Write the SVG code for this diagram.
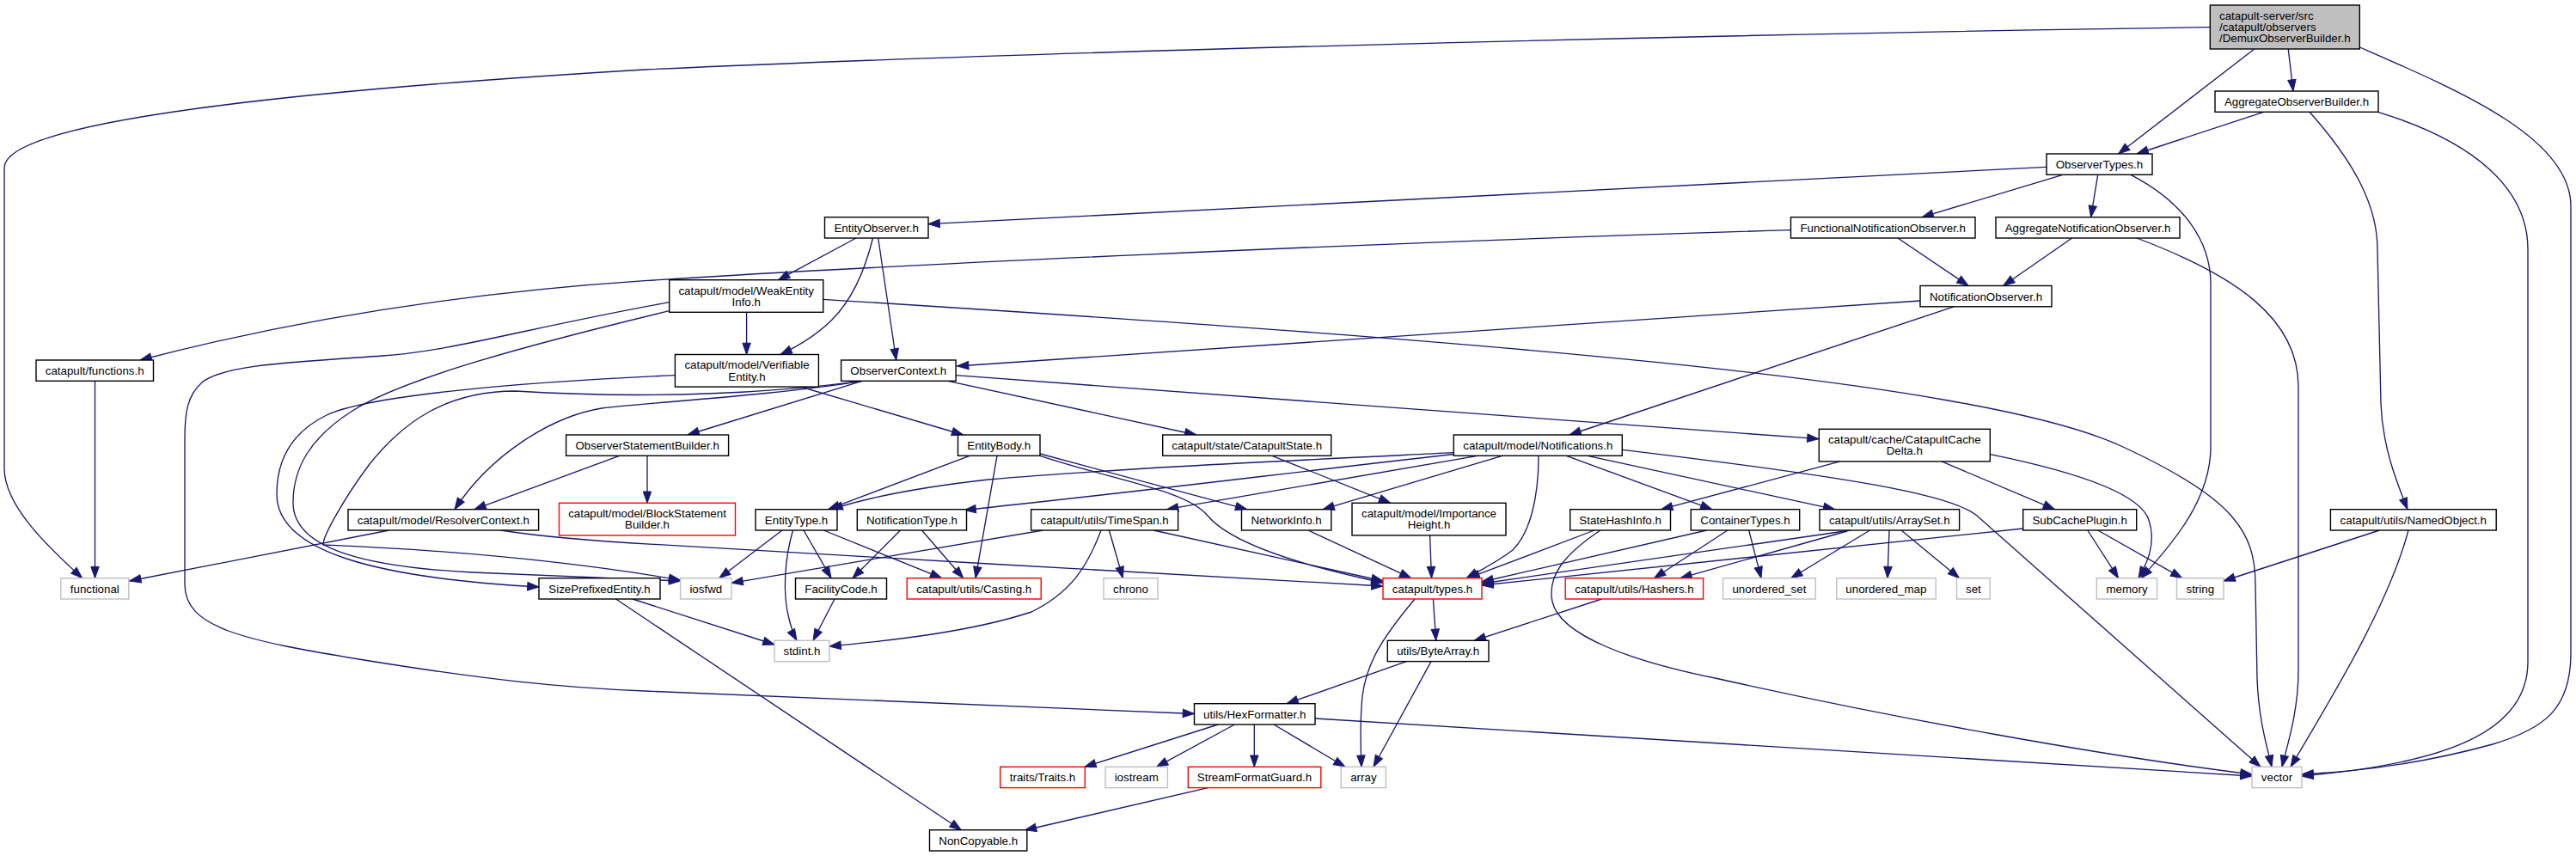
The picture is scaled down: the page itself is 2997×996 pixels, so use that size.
<svg xmlns="http://www.w3.org/2000/svg" width="2997" height="996" viewBox="0 0 2997 996">
<defs>
<style>
.n rect{fill:#fff;stroke:#000;stroke-width:1.4}
.n.g rect{stroke:#bfbfbf}
.n.r rect{stroke:#ff0000}
.n.root rect{fill:#bfbfbf}
text{font-family:"Liberation Sans",Arial,Helvetica,sans-serif;font-size:13.33px;fill:#000;text-anchor:middle}
#edges path{fill:none;stroke:#191970;stroke-width:1.33;marker-end:url(#ah)}
</style>
<marker id="ah" markerWidth="14" markerHeight="10" refX="13.3" refY="4.7" orient="auto" markerUnits="userSpaceOnUse" overflow="visible"><path d="M0,0 L13.3,4.7 L0,9.4 Z" fill="#191970" stroke="#191970" stroke-width="1"/></marker>
</defs>
<rect width="2997" height="996" fill="#fff"/>
<g id="edges">
<path d="M2622.5,57.3 L2464.6,179"/>
<path d="M2633.5,130.3 L2486,179"/>
<path d="M2662.2,57 L2668,106"/>
<path d="M2745.4,55 C2860,105 2991,160 2991,240 L2991,760 C2991,825 2960,848 2900,866 C2820,888 2740,898 2678,901"/>
<path d="M2766.5,130.3 C2880,165 2941,220 2941,290 L2941,770 C2941,850 2850,888 2678,903"/>
<path d="M2687,130.3 C2740,190 2766,240 2766,290 L2770,470 C2772,520 2788,560 2801,592.7"/>
<path d="M2571.3,31.7 C2000,40 1200,60 750,81 C350,105 5,140 5,195 L5,545 C5,590 60,640 95.7,672.7"/>
<path d="M2381,194.3 L1080,260.7"/>
<path d="M2400,203.3 L2236,252.7"/>
<path d="M2440.7,203.3 L2432.6,252.7"/>
<path d="M2479,203.3 C2540,235 2572,280 2572,330 L2572,520 C2572,580 2530,630 2491,672.7"/>
<path d="M2410.6,277 L2330.7,332.5"/>
<path d="M2208,277 L2290,332.5"/>
<path d="M2486,277 C2600,320 2674,370 2674,450 L2674,780 C2674,830 2660,870 2655,892.3"/>
<path d="M2083.5,267.7 C1600,282 1000,310 750,326.7 C550,340 350,370 163,419"/>
<path d="M996,277 L905.5,325.7"/>
<path d="M1015.5,277 C1005,320 990,350 968,372 C952,388 930,402 908,412.5"/>
<path d="M1021.7,277 L1042.7,419"/>
<path d="M868.6,363.3 L868.6,412.5"/>
<path d="M957.6,348.3 C1700,395 2300,440 2470,520 C2600,580 2624,620 2624,680 L2626,790 C2628,840 2638,870 2643,892.3"/>
<path d="M778.7,351.7 C620,380 520,410 445,414 C330,422 260,425 235,445 C218,460 215,480 215,510 L215,680 C215,730 280,745 430,769 C560,790 650,800 750,804 L1389.5,830.5"/>
<path d="M778.7,361.7 C620,400 470,440 410,478 C360,510 341,545 341,585 C341,640 430,660 550,666 L791.6,676"/>
<path d="M785.4,436.7 C600,445 430,460 380,483 C335,505 322,540 322,575 C322,640 430,672 627,683"/>
<path d="M1003,443.3 C900,457 760,465 600,455 C520,455 470,490 430,540 C400,580 375,625 376,634 C420,636 600,642 791.6,675"/>
<path d="M1003,443.3 C900,460 760,468 700,475 C640,485 570,530 529,592.7"/>
<path d="M1002.9,443.3 L800,506"/>
<path d="M720.5,530.3 L552,592.7"/>
<path d="M753,530.3 L753,585.3"/>
<path d="M452.6,617 L150.7,676"/>
<path d="M582.7,617 C640,626 700,630 760,633.3 C1000,647 1400,671 1609,682"/>
<path d="M110.5,443.3 L110.5,672.7"/>
<path d="M931.4,450 L1120.7,506"/>
<path d="M1102.9,443.3 L1391.8,506"/>
<path d="M1111.8,436.7 L2116,510.7"/>
<path d="M2234,350 L1113.5,426"/>
<path d="M2273,356.8 L1826,506"/>
<path d="M1128,530.3 L963.6,592.7"/>
<path d="M1160,530.3 L1135,672.7"/>
<path d="M1210,528 L1450.7,592.7"/>
<path d="M1210,530.3 C1300,560 1380,570 1405,600 C1430,630 1500,655 1609,678"/>
<path d="M1691.3,526.7 C1500,536 1300,545 1150,558 C1060,568 1000,582 967,592.7"/>
<path d="M1691.3,528.5 C1500,550 1300,575 1122,593.5"/>
<path d="M1719,530.3 L1357.4,592.7"/>
<path d="M1747.8,530.3 L1539,592.7"/>
<path d="M1790,530.3 C1790,580 1780,620 1760,640 C1740,655 1720,665 1706,672.7"/>
<path d="M1822.4,530.3 L1991.8,592.7"/>
<path d="M1847,530.3 L2134.7,592.7"/>
<path d="M1887.8,523.3 C2150,555 2270,575 2300,600 L2630,892.3"/>
<path d="M2140.8,536.9 L1932.7,592.7"/>
<path d="M2259,536.9 L2390.5,592.7"/>
<path d="M2315.4,528.7 C2420,550 2490,575 2500,605 C2510,635 2495,660 2488,672.7"/>
<path d="M1480,530.3 L1617.6,585.3"/>
<path d="M1663.6,622.9 L1665.5,672.7"/>
<path d="M1522,617 L1641.7,672.7"/>
<path d="M1342,617 L1609,676"/>
<path d="M1855,617 L1708,672.7"/>
<path d="M1862,617 C1820,645 1800,670 1806,700 C1815,740 1900,770 2000,790 C2200,835 2450,880 2620,901"/>
<path d="M1985.7,617 L1724,677"/>
<path d="M2153,617 L1724,679"/>
<path d="M2353.7,615 L1724,681"/>
<path d="M2010,617 L1924.5,672.7"/>
<path d="M2034.7,617 L2049,672.7"/>
<path d="M2149,618 L1955,672.7"/>
<path d="M2175.5,617 L2083.7,672.7"/>
<path d="M2198,617 L2196,672.7"/>
<path d="M2212,617 L2279.6,672.7"/>
<path d="M2428.8,617 L2464.6,672.7"/>
<path d="M2440.7,617 L2538.8,672.7"/>
<path d="M2768.4,617 L2587,676"/>
<path d="M2802,617 C2780,700 2720,800 2665,892.3"/>
<path d="M1667.4,697 L1670.7,745.3"/>
<path d="M1646,697 C1610,740 1590,770 1585,810 C1582,840 1583,870 1584,892.3"/>
<path d="M1863.5,697 L1715.2,745.3"/>
<path d="M1636.3,769.6 L1497,818.7"/>
<path d="M1665,769.6 L1598,892.3"/>
<path d="M1417.2,843 L1261.8,892.3"/>
<path d="M1436.4,843 L1345.5,892.3"/>
<path d="M1459.3,843 L1459.3,892.3"/>
<path d="M1482,843 L1565,892.3"/>
<path d="M1530,836 L2620,903"/>
<path d="M1405.3,916.6 L1192.4,966"/>
<path d="M716.6,697 L1118.3,965.7"/>
<path d="M736,697 L901,750"/>
<path d="M910,617 L836.8,672.7"/>
<path d="M922.5,617 C913,650 910,690 918,720 C921,732 924,740 927,745.3"/>
<path d="M935,617 L967,672.7"/>
<path d="M958.2,617 L1095.7,672.7"/>
<path d="M1047.5,617 L992,672.7"/>
<path d="M1072.5,617 L1120.7,672.7"/>
<path d="M1213.6,617 L851,678.3"/>
<path d="M1281,617 C1265,660 1245,690 1200,712 C1130,735 1040,745 965,752"/>
<path d="M1290.4,617 L1306.4,672.7"/>
<path d="M971,697 L946,745.3"/>
</g>
<g id="n_root" class="n root"><rect x="2571.3" y="6" width="174" height="51"/><text x="2582" y="22.6" style="text-anchor:start">catapult-server/src</text><text x="2582" y="35.9" style="text-anchor:start">/catapult/observers</text><text x="2582" y="49.2" style="text-anchor:start">/DemuxObserverBuilder.h</text></g>
<g id="n_aob" class="n"><rect x="2577" y="106" width="190" height="24.3"/><text x="2672" y="123">AggregateObserverBuilder.h</text></g>
<g id="n_ot" class="n"><rect x="2381" y="179" width="123" height="24.3"/><text x="2442.5" y="196">ObserverTypes.h</text></g>
<g id="n_eo" class="n"><rect x="959.5" y="252.7" width="120.5" height="24.3"/><text x="1019.7" y="269.7">EntityObserver.h</text></g>
<g id="n_fno" class="n"><rect x="2083.5" y="252.7" width="214.5" height="24.3"/><text x="2190.7" y="269.7">FunctionalNotificationObserver.h</text></g>
<g id="n_ano" class="n"><rect x="2322" y="252.7" width="214" height="24.3"/><text x="2429" y="269.7">AggregateNotificationObserver.h</text></g>
<g id="n_no" class="n"><rect x="2234" y="332.5" width="153" height="24.3"/><text x="2310.5" y="349.5">NotificationObserver.h</text></g>
<g id="n_wei" class="n"><rect x="778.7" y="325.7" width="179" height="37.6"/><text x="868.2" y="342.5">catapult/model/WeakEntity</text><text x="868.2" y="355.8">Info.h</text></g>
<g id="n_ve" class="n"><rect x="785.4" y="412.5" width="167" height="37.6"/><text x="869" y="429.3">catapult/model/Verifiable</text><text x="869" y="442.6">Entity.h</text></g>
<g id="n_oc" class="n"><rect x="978.6" y="419" width="133.5" height="24.3"/><text x="1045.3" y="436">ObserverContext.h</text></g>
<g id="n_functions" class="n"><rect x="42" y="419" width="136.5" height="24.3"/><text x="110.2" y="436">catapult/functions.h</text></g>
<g id="n_functional" class="n g"><rect x="70.8" y="672.7" width="79" height="24.3"/><text x="110.3" y="689.7">functional</text></g>
<g id="n_resolver" class="n"><rect x="405" y="592.7" width="221.6" height="24.3"/><text x="515.8" y="609.7">catapult/model/ResolverContext.h</text></g>
<g id="n_spe" class="n"><rect x="627" y="672.7" width="141" height="24.3"/><text x="697.5" y="689.7">SizePrefixedEntity.h</text></g>
<g id="n_osb" class="n"><rect x="658.6" y="506" width="189" height="24.3"/><text x="753.1" y="523">ObserverStatementBuilder.h</text></g>
<g id="n_bsb" class="n r"><rect x="650.5" y="585.3" width="205" height="37.6"/><text x="753" y="602.1">catapult/model/BlockStatement</text><text x="753" y="615.4">Builder.h</text></g>
<g id="n_entitybody" class="n"><rect x="1114.5" y="506" width="95.5" height="24.3"/><text x="1162.2" y="523">EntityBody.h</text></g>
<g id="n_catstate" class="n"><rect x="1352.7" y="506" width="196" height="24.3"/><text x="1450.7" y="523">catapult/state/CatapultState.h</text></g>
<g id="n_entitytype" class="n"><rect x="879" y="592.7" width="95" height="24.3"/><text x="926.5" y="609.7">EntityType.h</text></g>
<g id="n_notiftype" class="n"><rect x="997.3" y="592.7" width="127.2" height="24.3"/><text x="1060.9" y="609.7">NotificationType.h</text></g>
<g id="n_timespan" class="n"><rect x="1199.6" y="592.7" width="171" height="24.3"/><text x="1285.1" y="609.7">catapult/utils/TimeSpan.h</text></g>
<g id="n_netinfo" class="n"><rect x="1444.5" y="592.7" width="104.3" height="24.3"/><text x="1496.6" y="609.7">NetworkInfo.h</text></g>
<g id="n_iosfwd" class="n g"><rect x="791.6" y="672.7" width="59.4" height="24.3"/><text x="821.3" y="689.7">iosfwd</text></g>
<g id="n_facility" class="n"><rect x="925.5" y="672.7" width="106" height="24.3"/><text x="978.5" y="689.7">FacilityCode.h</text></g>
<g id="n_casting" class="n r"><rect x="1055.2" y="672.7" width="156" height="24.3"/><text x="1133.2" y="689.7">catapult/utils/Casting.h</text></g>
<g id="n_chrono" class="n g"><rect x="1284" y="672.7" width="63" height="24.3"/><text x="1315.5" y="689.7">chrono</text></g>
<g id="n_stdint" class="n g"><rect x="901" y="745.3" width="64" height="24.3"/><text x="933" y="762.3">stdint.h</text></g>
<g id="n_hexfmt" class="n"><rect x="1389.5" y="818.7" width="140.5" height="24.3"/><text x="1459.7" y="835.7">utils/HexFormatter.h</text></g>
<g id="n_traits" class="n r"><rect x="1163.7" y="892.3" width="98.6" height="24.3"/><text x="1213" y="909.3">traits/Traits.h</text></g>
<g id="n_iostream" class="n g"><rect x="1286" y="892.3" width="72.4" height="24.3"/><text x="1322.2" y="909.3">iostream</text></g>
<g id="n_sfg" class="n r"><rect x="1382.3" y="892.3" width="154.5" height="24.3"/><text x="1459.5" y="909.3">StreamFormatGuard.h</text></g>
<g id="n_noncopy" class="n"><rect x="1081.5" y="965.7" width="113.3" height="24.3"/><text x="1138.2" y="982.7">NonCopyable.h</text></g>
<g id="n_notifications" class="n"><rect x="1691.3" y="506" width="196" height="24.3"/><text x="1789.3" y="523">catapult/model/Notifications.h</text></g>
<g id="n_ccd" class="n"><rect x="2116.3" y="499.3" width="199" height="37.6"/><text x="2215.8" y="516.1">catapult/cache/CatapultCache</text><text x="2215.8" y="529.4">Delta.h</text></g>
<g id="n_importance" class="n"><rect x="1573" y="585.3" width="179" height="37.6"/><text x="1662.5" y="602.1">catapult/model/Importance</text><text x="1662.5" y="615.4">Height.h</text></g>
<g id="n_statehash" class="n"><rect x="1826.7" y="592.7" width="116.8" height="24.3"/><text x="1885.1" y="609.7">StateHashInfo.h</text></g>
<g id="n_container" class="n"><rect x="1967.3" y="592.7" width="126.4" height="24.3"/><text x="2030.5" y="609.7">ContainerTypes.h</text></g>
<g id="n_arrayset" class="n"><rect x="2117" y="592.7" width="162.6" height="24.3"/><text x="2198.3" y="609.7">catapult/utils/ArraySet.h</text></g>
<g id="n_types" class="n r"><rect x="1609" y="672.7" width="115" height="24.3"/><text x="1666.5" y="689.7">catapult/types.h</text></g>
<g id="n_hashers" class="n r"><rect x="1821.2" y="672.7" width="160.4" height="24.3"/><text x="1901.4" y="689.7">catapult/utils/Hashers.h</text></g>
<g id="n_uset" class="n g"><rect x="2004.6" y="672.7" width="107.6" height="24.3"/><text x="2058.4" y="689.7">unordered_set</text></g>
<g id="n_umap" class="n g"><rect x="2136.7" y="672.7" width="115.5" height="24.3"/><text x="2194.4" y="689.7">unordered_map</text></g>
<g id="n_set" class="n g"><rect x="2276.5" y="672.7" width="38.7" height="24.3"/><text x="2295.9" y="689.7">set</text></g>
<g id="n_bytearray" class="n"><rect x="1614.3" y="745.3" width="117.7" height="24.3"/><text x="1673.2" y="762.3">utils/ByteArray.h</text></g>
<g id="n_array" class="n g"><rect x="1560.3" y="892.3" width="52.1" height="24.3"/><text x="1586.4" y="909.3">array</text></g>
<g id="n_subcache" class="n"><rect x="2353.7" y="592.7" width="132" height="24.3"/><text x="2419.7" y="609.7">SubCachePlugin.h</text></g>
<g id="n_memory" class="n g"><rect x="2439.3" y="672.7" width="70.3" height="24.3"/><text x="2474.5" y="689.7">memory</text></g>
<g id="n_string" class="n g"><rect x="2532.5" y="672.7" width="54.5" height="24.3"/><text x="2559.8" y="689.7">string</text></g>
<g id="n_named" class="n"><rect x="2711.4" y="592.7" width="192.8" height="24.3"/><text x="2807.8" y="609.7">catapult/utils/NamedObject.h</text></g>
<g id="n_vector" class="n g"><rect x="2620" y="892.3" width="58" height="24.3"/><text x="2649" y="909.3">vector</text></g>
</svg>
